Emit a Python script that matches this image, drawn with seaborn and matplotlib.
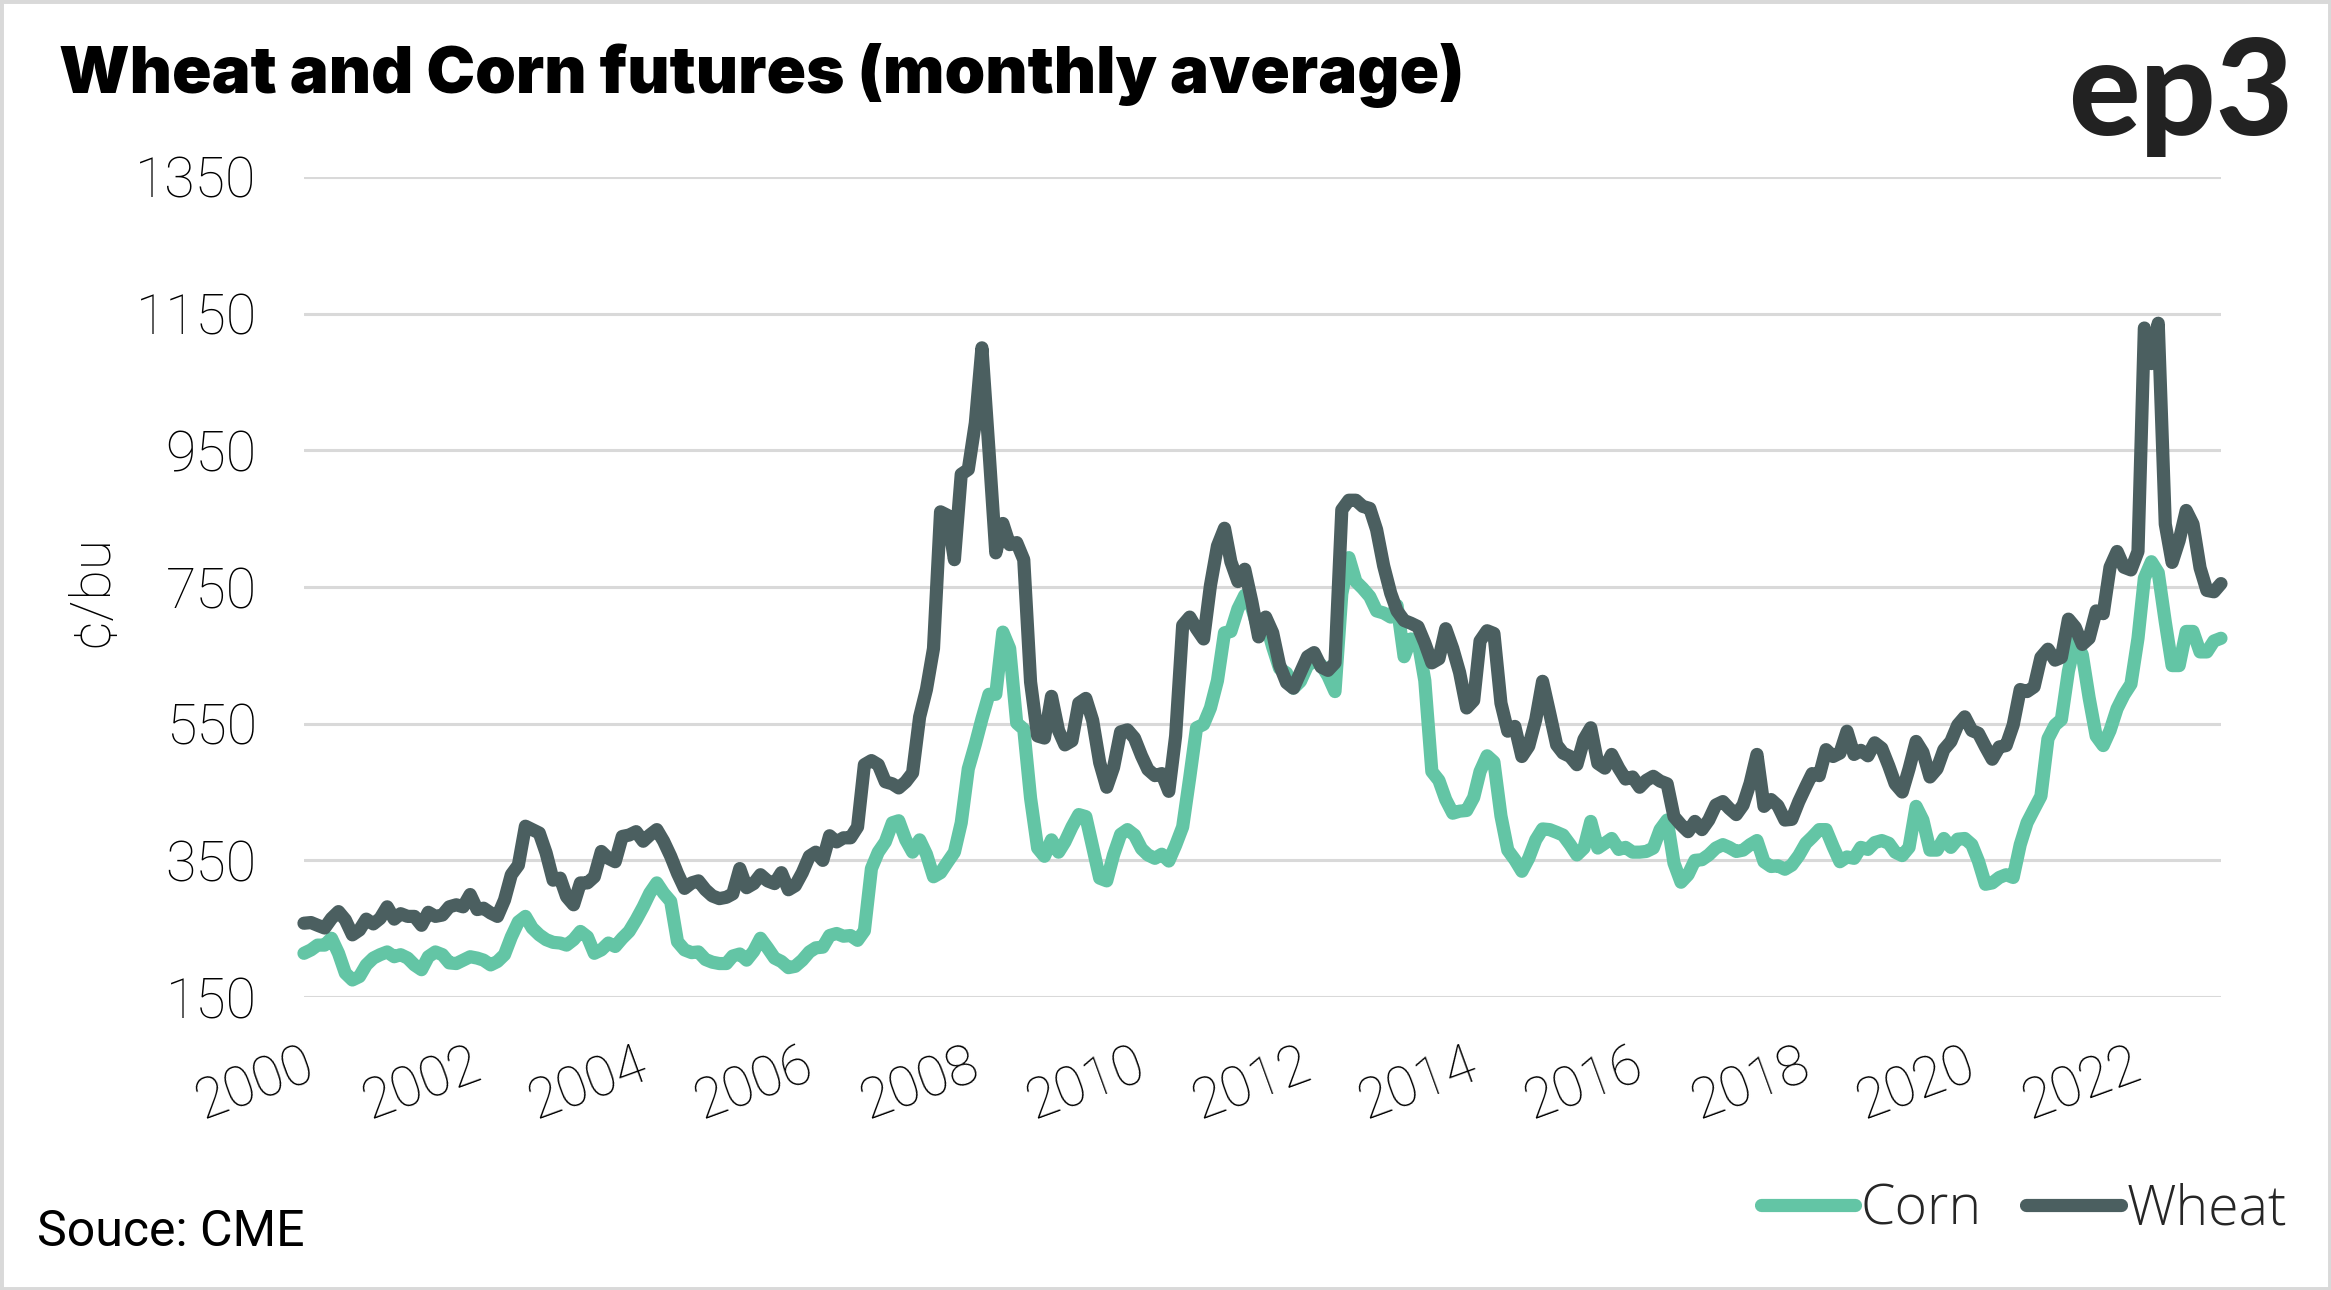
import pandas as pd
import matplotlib.pyplot as plt
import matplotlib.dates as mdates
from matplotlib.lines import Line2D
from matplotlib.patches import Rectangle
import seaborn as sns

# monthly average futures, c/bu, Jan 2000 - Feb 2023
wheat = [
    258, 259, 255, 251, 265, 275, 263, 241, 248, 264, 257, 265,  # 2000
    282, 264, 272, 268, 268, 255, 274, 268, 270, 282, 285, 282,  # 2001
    300, 278, 280, 273, 268, 292, 329, 343, 400, 395, 390, 361,  # 2002
    321, 324, 297, 285, 317, 317, 326, 363, 353, 348, 385, 387,  # 2003
    392, 378, 387, 395, 378, 356, 331, 309, 317, 320, 307, 298,  # 2004
    294, 296, 301, 338, 310, 316, 329, 320, 316, 332, 307, 313,  # 2005
    332, 356, 362, 350, 386, 377, 383, 383, 399, 490, 496, 490,  # 2006
    465, 462, 456, 465, 478, 560, 600, 660, 860, 855, 790, 915,  # 2007
    922, 990, 1100, 950, 800, 843, 812, 815, 790, 611, 532, 529,  # 2008
    590, 540, 519, 525, 580, 587, 555, 493, 457, 486, 538, 541,  # 2009
    529, 503, 483, 474, 477, 451, 532, 694, 706, 689, 674, 752,  # 2010
    810, 836, 787, 758, 776, 729, 677, 706, 683, 636, 610, 602,  # 2011
    625, 648, 654, 633, 628, 639, 863, 877, 877, 868, 865, 834,  # 2012
    781, 741, 715, 701, 697, 692, 668, 639, 645, 689, 660, 625,  # 2013
    573, 584, 671, 686, 682, 580, 539, 546, 502, 517, 556, 612,  # 2014
    566, 519, 507, 502, 490, 527, 544, 492, 485, 505, 485, 469,  # 2015
    472, 457, 467, 473, 466, 462, 414, 402, 392, 407, 395, 409,  # 2016
    431, 436, 426, 417, 431, 463, 505, 429, 439, 430, 409, 410,  # 2017
    436, 458, 477, 474, 512, 502, 507, 539, 505, 511, 503, 522,  # 2018
    514, 488, 462, 450, 484, 524, 508, 472, 484, 512, 524, 548,  # 2019
    560, 540, 536, 516, 498, 516, 518, 548, 600, 597, 604, 647,  # 2020
    659, 643, 647, 703, 691, 666, 675, 715, 711, 779, 802, 779,  # 2021
    775, 802, 1129, 1077, 1136, 842, 786, 818, 862, 842, 778, 745,  # 2022
    743, 755,  # 2023
]
corn = [
    214, 219, 226, 226, 236, 214, 185, 175, 180, 197, 207, 212,  # 2000
    216, 209, 212, 207, 197, 190, 209, 216, 212, 200, 199, 204,  # 2001
    209, 207, 204, 197, 202, 212, 238, 260, 268, 251, 241, 234,  # 2002
    230, 229, 226, 234, 246, 238, 214, 219, 229, 224, 236, 246,  # 2003
    263, 282, 302, 317, 302, 290, 231, 219, 215, 216, 205, 201,  # 2004
    199, 199, 210, 213, 204, 217, 236, 222, 207, 202, 193, 195,  # 2005
    204, 216, 222, 223, 240, 243, 239, 240, 233, 247, 338, 362,  # 2006
    377, 405, 408, 380, 362, 380, 359, 326, 332, 347, 362, 405,  # 2007
    484, 520, 557, 593, 593, 684, 660, 551, 542, 441, 368, 356,  # 2008
    380, 362, 377, 399, 417, 414, 370, 324, 320, 358, 388, 395,  # 2009
    387, 367, 358, 353, 359, 349, 372, 399, 471, 544, 549, 573,  # 2010
    613, 683, 685, 718, 738, 720, 686, 699, 662, 631, 624, 602,  # 2011
    612, 635, 642, 636, 620, 597, 740, 793, 758, 748, 736, 715,  # 2012
    712, 706, 723, 648, 674, 671, 613, 480, 467, 439, 419, 422,  # 2013
    423, 442, 480, 503, 494, 415, 365, 351, 334, 353, 380, 396,  # 2014
    395, 391, 387, 373, 358, 368, 407, 368, 375, 382, 366, 369,  # 2015
    362, 362, 363, 368, 395, 409, 346, 318, 329, 350, 351, 358,  # 2016
    368, 373, 369, 363, 365, 373, 379, 348, 341, 342, 337, 343,  # 2017
    357, 375, 384, 395, 395, 370, 348, 355, 353, 369, 366, 376,  # 2018
    379, 375, 362, 357, 369, 429, 409, 365, 365, 382, 369, 381,  # 2019
    382, 373, 349, 315, 317, 325, 329, 325, 373, 405, 425, 444,  # 2020
    528, 548, 556, 627, 671, 651, 588, 532, 518, 540, 572, 592,  # 2021
    608, 675, 763, 787, 771, 699, 635, 635, 685, 685, 655, 655,  # 2022
    671, 675,  # 2023
]
months = pd.date_range("2000-01-01", periods=len(wheat), freq="MS")
tick_years = list(range(2000, 2023, 2))
y_ticks = [150, 350, 550, 750, 950, 1150, 1350]
series = ["Corn", "Wheat"]

corn_color = "#63c5a5"
wheat_color = "#4b5f60"
grid_color = "#d9d9d9"

df = pd.DataFrame({"month": months, "Corn": corn, "Wheat": wheat})
long_df = df.melt(id_vars="month", var_name="crop", value_name="price")

sns.set_theme(style="white")
plt.rcParams["font.family"] = ["Lato", "DejaVu Sans"]
thin_font = ["Roboto", "DejaVu Sans"]

fig = plt.figure(figsize=(23.31, 12.9), dpi=100)
ax = fig.add_axes([0.1304, 0.2271, 0.8224, 0.6357])

sns.lineplot(data=long_df, x="month", y="price", hue="crop", hue_order=series,
             palette={"Corn": corn_color, "Wheat": wheat_color},
             linewidth=9.5, errorbar=None, legend=False, ax=ax)
for line in ax.lines:
    line.set_solid_capstyle("round")
    line.set_solid_joinstyle("round")
    line.set_clip_on(False)

ax.set_ylim(150, 1350)
ax.set_yticks(y_ticks)
ax.set_xlim(months[0], months[-1])
ax.set_xticks([pd.Timestamp(f"{y}-01-01") for y in tick_years])
ax.xaxis.set_major_formatter(mdates.DateFormatter("%Y"))
ax.yaxis.grid(True, color=grid_color, linewidth=2.2)
ax.xaxis.grid(False)
ax.set_axisbelow(True)
for s in ax.spines.values():
    s.set_visible(False)
ax.set_xlabel("")
ax.set_ylabel("")
ax.tick_params(axis="both", length=0, labelsize=40, colors="black")
ax.tick_params(axis="y", pad=34)
ax.tick_params(axis="x", pad=30, labelrotation=20)
plt.setp(ax.get_xticklabels(), ha="right", rotation_mode="anchor")
plt.setp(ax.get_xticklabels() + ax.get_yticklabels(), fontweight="light",
         family=thin_font, color="black")

fig.text(0.0395, 0.5419, "¢/bu", rotation=90, ha="center", va="center",
         fontsize=40, fontweight="light", family=thin_font, color="black")
fig.text(0.0253, 0.9279, "Wheat and Corn futures (monthly average)",
         fontsize=47, fontweight="black", va="baseline", color="black",
         family=["Inter", "DejaVu Sans"])
fig.text(0.9837, 0.8953, "ep3", fontsize=96, fontweight="black",
         color="#222222", ha="right", va="baseline")
fig.text(0.0159, 0.0341, "Souce: CME", fontsize=36, va="baseline",
         color="black", family=thin_font)

handles = [Line2D([0], [0], color=corn_color, lw=9.5, solid_capstyle="round"),
           Line2D([0], [0], color=wheat_color, lw=9.5, solid_capstyle="round")]
fig.legend(handles, series, loc="center right", bbox_to_anchor=(0.981, 0.062),
           ncol=2, frameon=False, handlelength=1.7, handletextpad=0.1,
           columnspacing=0.8, borderpad=0, borderaxespad=0,
           prop={"family": ["Open Sans", "DejaVu Sans"], "size": 40,
                 "weight": "light"})

fig.patches.append(Rectangle((0, 0), 1, 1, transform=fig.transFigure,
                             fill=False, edgecolor=grid_color, linewidth=5))

fig.savefig("out.png", dpi=100)
